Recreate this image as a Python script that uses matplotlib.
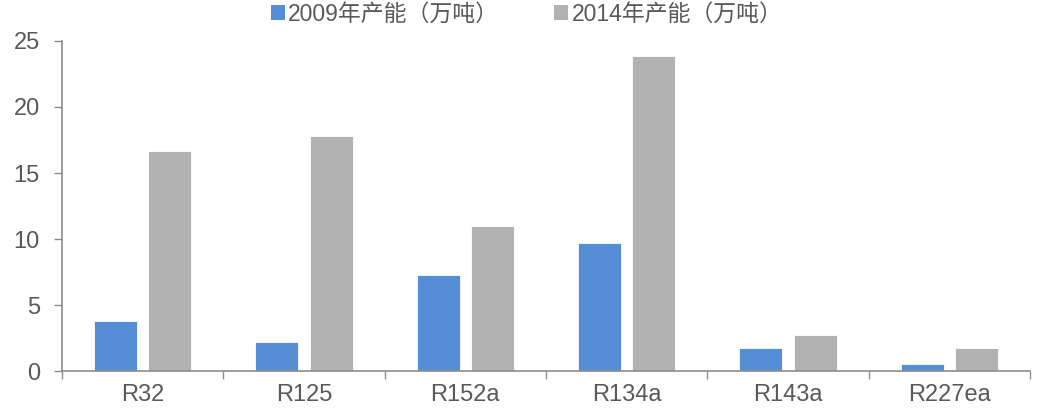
import numpy as np
import matplotlib.pyplot as plt
from matplotlib.patches import Patch

plt.rcParams['font.family'] = ['Liberation Sans', 'Noto Sans CJK SC', 'DejaVu Sans']

# capacity by refrigerant, 10k tonnes
products = ['R32', 'R125', 'R152a', 'R134a', 'R143a', 'R227ea']
cap_2009 = [3.8, 2.2, 7.25, 9.7, 1.75, 0.5]
cap_2014 = [16.65, 17.8, 11.0, 23.85, 2.7, 1.75]
series_names = ['2009年产能（万吨）', '2014年产能（万吨）']

blue = '#558ED5'
grey = '#B2B2B2'
text_col = '#595959'
axis_col = '#8C8C8C'

fig = plt.figure(figsize=(10.37, 4.16), dpi=100)
ax = fig.add_axes([0.0598, 0.108, 0.9334, 0.7935])

x = np.arange(len(products))
w = 0.267
off = 0.168
ax.bar(x - off, cap_2009, width=w, color=blue, edgecolor='white', linewidth=0.6)
ax.bar(x + off, cap_2014, width=w, color=grey, edgecolor='white', linewidth=0.6)

ax.set_xlim(-0.5, len(products) - 0.5)
ax.set_ylim(0, 25)
ax.set_yticks([0, 5, 10, 15, 20, 25])

# category labels centred, ticks on the boundaries
ax.set_xticks(x)
ax.set_xticklabels(products)
ax.set_xticks(np.arange(-0.5, len(products)), minor=True)
ax.tick_params(axis='x', which='major', length=0, pad=9, labelsize=17, labelcolor=text_col)
ax.tick_params(axis='x', which='minor', length=6, width=1, color=axis_col, direction='out')
ax.tick_params(axis='y', length=6, width=1, color=axis_col, pad=10, labelsize=17, labelcolor=text_col)

for side in ['top', 'right']:
    ax.spines[side].set_visible(False)
for side in ['left', 'bottom']:
    ax.spines[side].set_color(axis_col)
    ax.spines[side].set_linewidth(1.2)

handles = [Patch(facecolor=blue, edgecolor='none'), Patch(facecolor=grey, edgecolor='none')]
fig.legend(handles, series_names, loc='center', bbox_to_anchor=(0.508, 0.966),
           ncol=2, frameon=False, fontsize=16.5, labelcolor=text_col,
           handlelength=0.6, handleheight=0.6, handletextpad=0.15, columnspacing=2.4)

fig.savefig('out.png', dpi=100)
